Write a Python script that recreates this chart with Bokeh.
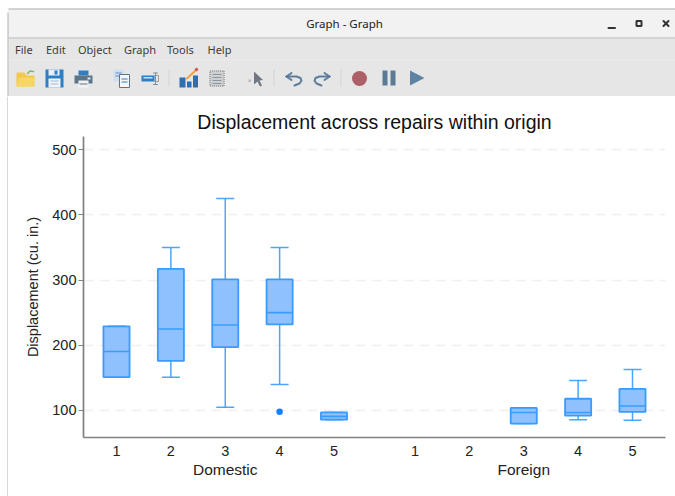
from bokeh.plotting import figure
from bokeh.embed import file_html
from bokeh.resources import INLINE
from bokeh.layouts import column, row
from bokeh.models import FactorRange, Range1d, FixedTicker
from bokeh.core.properties import value

# ---- chart data ----
origins = ["Domestic", "Domestic", "Domestic", "Domestic", "Domestic", "Foreign", "Foreign", "Foreign"]
repairs = ["1", "2", "3", "4", "5", "3", "4", "5"]
whisker_low = [151, 151, 105, 140, 86, 80, 86, 85]
q1 = [151, 176, 197, 232, 86, 80, 92, 98]
median = [190.5, 225, 231, 250, 91, 97, 97, 107]
q3 = [229, 317, 301, 301, 97, 104, 118, 133]
whisker_high = [229, 350, 425, 350, 97, 104, 146, 163]
outlier_origin = ["Domestic"]
outlier_repair = ["4"]
outlier_value = [98]
y_ticks = [100, 200, 300, 400, 500]
all_repairs = ["1", "2", "3", "4", "5"]
title_text = "Displacement across repairs within origin"
y_label = "Displacement (cu. in.)"
menu_items = ["File", "Edit", "Object", "Graph", "Tools", "Help"]
window_title = "Graph - Graph"

# ---- window chrome (pixel space) ----
UI = value("Noto Sans")
c = figure(width=675, height=96, x_range=Range1d(0, 675), y_range=Range1d(96, 0),
           toolbar_location=None, output_backend="svg", min_border=0, frame_align=False,
           x_axis_location=None, y_axis_location=None,
           outline_line_color=None, background_fill_color="white", border_fill_color="white")
c.grid.visible = False


def box(l, t, r, b, color, **kw):
    c.quad(left=[l], right=[r], top=[t], bottom=[b], fill_color=color, line_color=None, **kw)


def poly(xs, ys, color):
    c.patch(xs, ys, fill_color=color, line_color=None)


def line(xs, ys, color, w=2.0):
    c.line(xs, ys, line_color=color, line_width=w, line_cap="round", line_join="round")


box(8, 8, 675, 96, "#e6e6e6")
box(8, 9, 675, 37, "#f2f2f2")
box(8, 8, 675, 9, "#b4b4b4")
box(7, 12, 8, 96, "#b0b0b0")
box(8, 37, 675, 38, "#bdbdbd")
box(8, 59, 675, 60, "#ececec")
c.text([344], [22.5], text=[window_title], text_font=UI, text_font_size="11.5px", text_font_style="normal",
       text_color="#222222", text_align="center", text_baseline="middle")
menu_x = [14.5, 45.5, 77.5, 123.5, 166.5, 207]
c.text(menu_x, [48.5] * 6, text=menu_items, text_font=UI, text_font_size="11px", text_color="#3c3c3c",
       text_align="left", text_baseline="middle")
# window buttons
line([608, 614.5], [27.5, 27.5], "#333333", 2)
c.quad(left=[636], right=[641], top=[20.5], bottom=[25.5], fill_color=None, line_color="#333333", line_width=2)
line([663, 668], [20.5, 25.5], "#333333", 2)
line([663, 668], [25.5, 20.5], "#333333", 2)
# folder
poly([16, 16, 24, 26, 34, 34], [86, 72, 72, 75, 75, 86], "#f2c94c")
poly([16, 19, 34, 33, 16], [86, 77, 77, 86, 86], "#f7d668")
line([27, 29.5, 33], [73, 70.5, 71], "#7fb27f", 1.5)
# floppy
box(45, 69, 63, 87, "#2f7fc4")
box(48, 69, 59, 75, "#e8eef4")
box(54, 70, 57, 74, "#2f7fc4")
box(48, 78, 60, 87, "#f2f5f8")
box(50, 80, 58, 81, "#9db9d3")
box(50, 83, 58, 84, "#9db9d3")
# printer
box(78, 70, 88, 75, "#2f7fc4")
box(74, 75, 92, 83, "#5d7589")
box(78, 80, 88, 87, "#f2f2f2")
box(79, 83, 87, 84, "#5d7589")
box(87, 77, 90, 79, "#e6e6e6")
# copy
box(113, 69, 123, 81, "#cfdff0")
box(115, 72, 121, 73, "#5d90c0")
box(115, 75, 121, 76, "#5d90c0")
box(119, 74, 129, 87, "#f4f6f8")
c.quad(left=[119], right=[129], top=[74], bottom=[87], fill_color=None, line_color="#5d7589", line_width=1)
box(121, 78, 127, 79, "#2f7fc4")
box(121, 81, 127, 82, "#2f7fc4")
# text box tool
box(141, 75, 154, 81, "#2f7fc4")
box(143, 76.5, 152, 78, "#cfdff0")
line([154, 158], [75, 75], "#a0a0a0", 1)
line([154, 158], [81, 81], "#a0a0a0", 1)
line([158, 158], [75, 81], "#a0a0a0", 1)
line([153, 157], [72.5, 72.5], "#7f8f9c", 1)
line([153, 157], [84, 84], "#7f8f9c", 1)
line([155, 155], [72.5, 84], "#7f8f9c", 1)
# separators
for sx in [168.5, 273.5, 340.5]:
    box(sx - 0.5, 69, sx + 0.5, 86, "#d4d4d4")
# bar chart icon
box(179, 77, 185, 87, "#2f6fb0")
box(186.5, 81, 191, 87, "#2f6fb0")
box(192.5, 75, 197.5, 87, "#2f6fb0")
line([186.5, 195.5], [78, 69.5], "#f0a63c", 2)
c.scatter([196], [69], size=2.5, color="#d9534f")
# table icon
box(209, 70, 224, 86, "#cfcfcf")
c.quad(left=[209.5], right=[223.5], top=[70.5], bottom=[85.5], fill_color=None, line_color="#808080", line_width=1, line_dash="1 1")
for ty in [73.5, 76.5, 79.5, 82.5]:
    box(212, ty, 221, ty + 0.9, "#8b98a3")
# cursor
poly([253.5, 253.5, 257, 259.5, 261.5, 259, 262.5], [71, 84, 81, 86, 85, 80, 79.5], "#6f7780")
box(248, 79, 250.5, 81.5, "#b8b8b8")
# undo / redo
line([286, 291], [76, 72.5], "#5c7d9c", 2)
line([286, 291], [76, 79.5], "#5c7d9c", 2)
line([286, 296, 300, 301, 299, 294], [76, 76, 77.5, 80, 83, 85], "#5c7d9c", 2)
line([329, 324], [76, 72.5], "#5c7d9c", 2)
line([329, 324], [76, 79.5], "#5c7d9c", 2)
line([329, 319, 315, 314, 316, 321], [76, 76, 77.5, 80, 83, 85], "#5c7d9c", 2)
# record / pause / play
c.scatter([359], [78], size=15, color="#ad5f68", line_color=None)
box(382, 70, 387, 85, "#5a7a96")
box(390, 70, 395, 85, "#5a7a96")
poly([409.5, 409.5, 424], [70, 85, 77.5], "#5f83a3")

# left window edge below the toolbar
strip = figure(width=8, height=400, x_range=Range1d(0, 8), y_range=Range1d(0, 1),
               toolbar_location=None, output_backend="svg", min_border=0, frame_align=False,
               x_axis_location=None, y_axis_location=None,
               outline_line_color=None, background_fill_color="white", border_fill_color="white")
strip.grid.visible = False
strip.quad(left=[7], right=[8], top=[1], bottom=[0], fill_color="#b0b0b0", line_color=None)

# ---- chart ----
factors = [(o, r) for o in ["Domestic", "Foreign"] for r in all_repairs]
x_range = FactorRange(*factors, group_padding=0.49, factor_padding=0.0, range_padding=0.107,
                      range_padding_units="absolute")
p = figure(width=667, height=400, x_range=x_range, y_range=Range1d(58.6, 520),
           toolbar_location=None, output_backend="svg", frame_align=False,
           title=title_text, min_border_left=75, min_border_right=10, min_border_top=40, min_border_bottom=59,
           outline_line_color=None, background_fill_color="white", border_fill_color="white")
p.title.text_font = "Liberation Sans"
p.title.text_font_size = "19.5px"
p.title.text_font_style = "normal"
p.title.text_color = "#111111"
p.title.align = "center"
p.title.offset = 0
p.title.standoff = 8

p.xgrid.visible = False
p.ygrid.ticker = FixedTicker(ticks=y_ticks)
p.ygrid.grid_line_color = "#f0f0f0"
p.ygrid.grid_line_width = 1.5
p.ygrid.grid_line_dash = "10 6"

AXIS = "#808080"
ya = p.yaxis[0]
ya.ticker = FixedTicker(ticks=y_ticks)
ya.axis_label = y_label
ya.axis_label_text_font = "Liberation Sans"
ya.axis_label_text_font_size = "14.5px"
ya.axis_label_text_font_style = "normal"
ya.axis_label_text_color = "#222222"
ya.axis_label_standoff = 8
ya.major_label_text_font = "Liberation Sans"
ya.major_label_text_font_size = "14.5px"
ya.major_label_text_color = "#222222"
ya.major_label_standoff = 2
ya.axis_line_color = AXIS
ya.axis_line_width = 1.7
ya.major_tick_line_color = AXIS
ya.major_tick_line_width = 1.2
ya.major_tick_out = 5
ya.major_tick_in = 0
ya.minor_tick_line_color = None

xa = p.xaxis[0]
xa.axis_line_color = AXIS
xa.axis_line_width = 1.7
xa.major_tick_line_color = None
xa.minor_tick_line_color = None
xa.major_label_text_font = "Liberation Sans"
xa.major_label_text_font_size = "14.5px"
xa.major_label_text_color = "#222222"
xa.major_label_standoff = 2
xa.group_text_font = "Liberation Sans"
xa.group_text_font_size = "15.5px"
xa.group_text_font_style = "normal"
xa.group_text_color = "#222222"
xa.separator_line_color = None

pos = [(o, r) for o, r in zip(origins, repairs)]
LINE = "#3a9bff"
FILL = "#8fc1ff"
BOX_W = 0.48
CAP_W = 0.33


def off(items, d):
    return [(o, r, d) for o, r in items]


p.segment(pos, q3, pos, whisker_high, line_color=LINE, line_width=1.5, line_alpha=0.9)
p.segment(pos, q1, pos, whisker_low, line_color=LINE, line_width=1.5, line_alpha=0.9)
p.segment(off(pos, -CAP_W / 2), whisker_high, off(pos, CAP_W / 2), whisker_high, line_color=LINE, line_width=1.5, line_alpha=0.9)
p.segment(off(pos, -CAP_W / 2), whisker_low, off(pos, CAP_W / 2), whisker_low, line_color=LINE, line_width=1.5, line_alpha=0.9)
p.vbar(x=pos, width=BOX_W, bottom=q1, top=q3, fill_color=FILL, line_color=LINE, line_width=1.8)
p.segment(off(pos, -BOX_W / 2), median, off(pos, BOX_W / 2), median, line_color=LINE, line_width=1.6)
p.scatter(list(zip(outlier_origin, outlier_repair)), outlier_value, size=6.5, color="#1a7fff", line_color=None)

page = column(c, row(strip, p, spacing=0), spacing=0)
open("out.html", "w").write(file_html(page, INLINE))
